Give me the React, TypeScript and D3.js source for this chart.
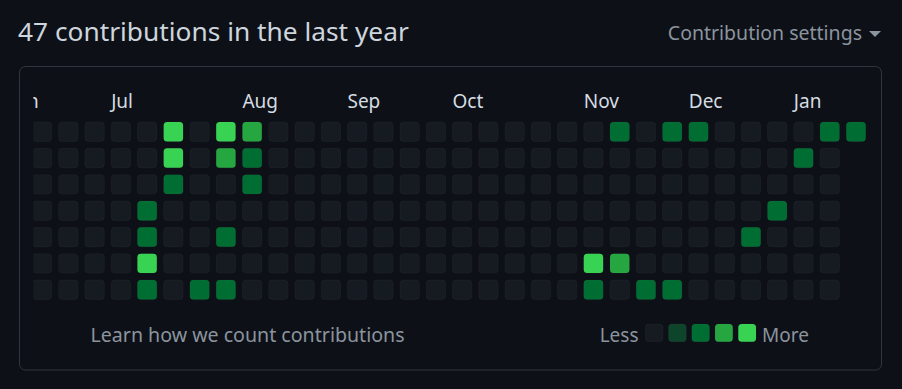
import React, { useEffect } from "react";
import * as d3 from "d3";

const title = "47 contributions in the last year";
const settingsLabel = "Contribution settings";
const learnLabel = "Learn how we count contributions";

const levelColors = ["#161b22", "#0e4429", "#006d32", "#26a641", "#39d353"];

// levels per week (Sun..Sat), 32 weeks, last week partial
const weekLevels: number[][] = [
  [0, 0, 0, 0, 0, 0, 0],
  [0, 0, 0, 0, 0, 0, 0],
  [0, 0, 0, 0, 0, 0, 0],
  [0, 0, 0, 0, 0, 0, 0],
  [0, 0, 0, 2, 2, 4, 2],
  [4, 4, 2, 0, 0, 0, 0],
  [0, 0, 0, 0, 0, 0, 2],
  [4, 3, 0, 0, 2, 0, 2],
  [3, 2, 2, 0, 0, 0, 0],
  [0, 0, 0, 0, 0, 0, 0],
  [0, 0, 0, 0, 0, 0, 0],
  [0, 0, 0, 0, 0, 0, 0],
  [0, 0, 0, 0, 0, 0, 0],
  [0, 0, 0, 0, 0, 0, 0],
  [0, 0, 0, 0, 0, 0, 0],
  [0, 0, 0, 0, 0, 0, 0],
  [0, 0, 0, 0, 0, 0, 0],
  [0, 0, 0, 0, 0, 0, 0],
  [0, 0, 0, 0, 0, 0, 0],
  [0, 0, 0, 0, 0, 0, 0],
  [0, 0, 0, 0, 0, 0, 0],
  [0, 0, 0, 0, 0, 4, 2],
  [2, 0, 0, 0, 0, 3, 0],
  [0, 0, 0, 0, 0, 0, 2],
  [2, 0, 0, 0, 0, 0, 2],
  [2, 0, 0, 0, 0, 0, 0],
  [0, 0, 0, 0, 0, 0, 0],
  [0, 0, 0, 0, 2, 0, 0],
  [0, 0, 0, 2, 0, 0, 0],
  [0, 2, 0, 0, 0, 0, 0],
  [2, 0, 0, 0, 0, 0, 0],
  [2],
];

const monthLabels = ["Jun", "Jul", "Aug", "Sep", "Oct", "Nov", "Dec", "Jan"];
const monthWeeks = [-1, 3, 8, 12, 16, 21, 25, 29];
const legendLevels = [0, 1, 2, 3, 4];

const W = 902;
const H = 389;
const FONT = "'Noto Sans', 'Open Sans', sans-serif";

export default function App() {
  useEffect(() => {
    document.body.style.margin = "0";
    document.body.style.background = "#0d1117";
  }, []);

  const x = d3.scaleLinear().domain([0, weekLevels.length - 1]).range([32.4, 846.3]);
  const y = d3.scaleLinear().domain([0, 6]).range([122, 280]);
  const cell = 19.4;
  const lx = d3.scaleLinear().domain([0, 4]).range([645.3, 738.3]);
  const lsize = 17.7;

  const cells = weekLevels.flatMap((wk, wi) =>
    wk.map((lvl, di) => ({ wi, di, lvl }))
  );

  return (
    <svg width={W} height={H} style={{ display: "block", background: "#0d1117" }} fontFamily={FONT}>
      <defs>
        <clipPath id="gridclip">
          <rect x={33.3} y={70} width={840} height={240} />
        </clipPath>
      </defs>
      <rect x={0} y={0} width={W} height={H} fill="#0d1117" />
      <text x={18} y={41} fill="#cdd5dd" fontSize={26.3}>{title}</text>
      <text x={862} y={40} fill="#8b949e" fontSize={19.5} textAnchor="end">{settingsLabel}</text>
      <path d="M869,31 L881,31 L875,37 Z" fill="#8b949e" />
      <rect x={19.5} y={66.5} width={862} height={303.5} rx={6} fill="none" stroke="#30363d" />
      <g clipPath="url(#gridclip)">
        {monthLabels.map((m, i) => (
          <text key={m} x={x(monthWeeks[i]) + (i === 0 ? 4 : 0)} y={107.5} fill="#d5dce3" fontSize={19}>{m}</text>
        ))}
        {cells.map((c) => (
          <rect
            key={`${c.wi}-${c.di}`}
            x={x(c.wi)}
            y={y(c.di)}
            width={cell}
            height={cell}
            rx={3.5}
            fill={levelColors[c.lvl]}
            stroke="rgba(255,255,255,0.05)"
            strokeWidth={0.7}
          />
        ))}
      </g>
      <text x={90.5} y={342} fill="#8b949e" fontSize={19.6}>{learnLabel}</text>
      <text x={638.5} y={342} fill="#8b949e" fontSize={19} textAnchor="end">Less</text>
      {legendLevels.map((l) => (
        <rect key={l} x={lx(l)} y={324} width={lsize} height={lsize} rx={3.5} fill={levelColors[l]}
          stroke="rgba(255,255,255,0.05)" strokeWidth={0.7} />
      ))}
      <text x={762} y={342} fill="#8b949e" fontSize={19}>More</text>
    </svg>
  );
}
